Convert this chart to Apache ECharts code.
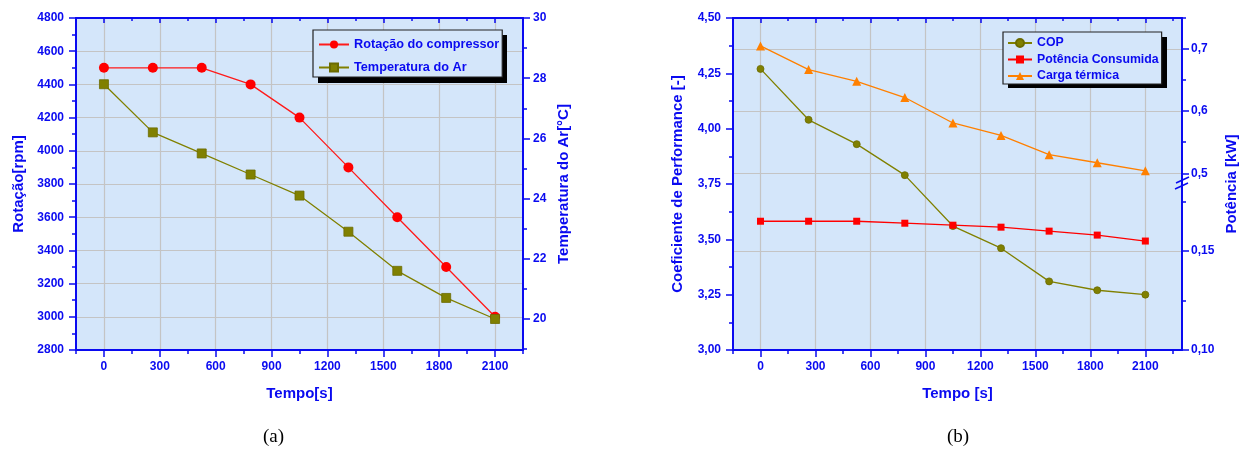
<!DOCTYPE html>
<html>
<head>
<meta charset="utf-8">
<script src="https://cdn.jsdelivr.net/npm/echarts@6/dist/echarts.min.js"></script>
<style>
  html, body { margin: 0; padding: 0; background: #fff; }
  #chart { width: 1241px; height: 455px; }
</style>
</head>
<body>
<div id="chart"></div>
<script>
// dados
const tempo = [0, 262.5, 525, 787.5, 1050, 1312.5, 1575, 1837.5, 2100];
const rotacao = [4500, 4500, 4500, 4400, 4200, 3900, 3600, 3300, 3000];
const tempAr = [27.8, 26.2, 25.5, 24.8, 24.1, 22.9, 21.6, 20.7, 20.0];
const cop = [4.27, 4.04, 3.93, 3.79, 3.56, 3.46, 3.31, 3.27, 3.25];
const potencia = [0.165, 0.165, 0.165, 0.164, 0.163, 0.162, 0.160, 0.158, 0.155];
const carga = [0.705, 0.667, 0.648, 0.622, 0.581, 0.561, 0.530, 0.517, 0.504];

const xMajor = [0, 300, 600, 900, 1200, 1500, 1800, 2100];
const xMinor = [-150, 150, 450, 750, 1050, 1350, 1650, 1950, 2250];
const tempMajor = [20, 22, 24, 26, 28, 30];
const tempMinor = [19, 21, 23, 25, 27, 29];
const potSupMajor = [0.5, 0.6, 0.7];
const potSupMinor = [0.55, 0.65, 0.75];
const potInfMajor = [0.10, 0.15];
const potInfMinor = [0.125, 0.175];

const BLUE = '#0a0af0';
const BG = '#d4e6fa';
const FONT = 'Liberation Sans';
const pairs = (ys) => tempo.map((t, i) => [t, ys[i]]);
const virgula = (d) => (v) => v.toFixed(d).replace('.', ',');
const simples = (v) => String(v);

const labelStyle = { color: BLUE, fontWeight: 'bold', fontSize: 12, fontFamily: FONT };
const nameStyle = { color: BLUE, fontWeight: 'bold', fontSize: 15, fontFamily: FONT };
const lineStyle = { color: BLUE, width: 2 };
const gridLine = { show: true, lineStyle: { color: '#c4c4c4', width: 1.2 } };

function eixoX(grid, max, extra) {
  return Object.assign({
    type: 'value', gridIndex: grid, min: -150, max: max, interval: 150,
    axisLine: { show: false, onZero: false, lineStyle: lineStyle },
    axisTick: { show: false },
    axisLabel: { show: false },
    splitLine: { show: false }
  }, extra);
}

function eixosX(grid, max, nome) {
  return [
    eixoX(grid, max, {
      position: 'bottom',
      name: nome, nameLocation: 'middle', nameGap: 36, nameTextStyle: nameStyle,
      axisLine: { show: true, onZero: false, lineStyle: lineStyle },
      axisTick: { show: true, length: 7, customValues: xMajor, lineStyle: { color: BLUE, width: 1.5 } },
      axisLabel: { show: true, margin: 11, customValues: xMajor, formatter: simples, ...labelStyle },
      splitLine: gridLine
    }),
    eixoX(grid, max, {
      position: 'bottom',
      axisTick: { show: true, length: 4, customValues: xMinor, lineStyle: { color: BLUE, width: 1.5 } }
    }),
    eixoX(grid, max, {
      position: 'top',
      axisLine: { show: true, onZero: false, lineStyle: lineStyle },
      axisTick: { show: true, inside: true, length: 5, customValues: xMajor, lineStyle: { color: BLUE, width: 1.5 } }
    }),
    eixoX(grid, max, {
      position: 'top',
      axisTick: { show: true, inside: true, length: 3, customValues: xMinor, lineStyle: { color: BLUE, width: 1.5 } }
    })
  ];
}

const xAxes = [].concat(
  eixosX(0, 2250, 'Tempo[s]'),
  eixosX(1, 2300, 'Tempo [s]'),
  [eixoX(2, 2300, { show: false }), eixoX(3, 2300, { show: false })]
);

const tick = (len, vals) => ({ show: true, length: len, customValues: vals, lineStyle: { color: BLUE, width: 1.5 } });
const semLinha = { show: false, onZero: false };
const comLinha = { show: true, onZero: false, lineStyle: lineStyle };

const yAxes = [
  // 0: rotacao
  {
    type: 'value', gridIndex: 0, position: 'left', min: 2800, max: 4800, interval: 200,
    name: 'Rotação[rpm]', nameLocation: 'middle', nameGap: 50, nameRotate: 90, nameTextStyle: nameStyle,
    axisLine: comLinha,
    axisTick: { show: true, length: 7, lineStyle: { color: BLUE, width: 1.5 } },
    minorTick: { show: true, splitNumber: 2, length: 4, lineStyle: { color: BLUE, width: 1.5 } },
    axisLabel: { margin: 12, formatter: simples, ...labelStyle },
    splitLine: gridLine
  },
  // 1: temperatura
  {
    type: 'value', gridIndex: 0, position: 'right', min: 18.97, max: 30,
    name: 'Temperatura do Ar[°C]', nameLocation: 'middle', nameGap: 33, nameRotate: 90, nameTextStyle: nameStyle,
    axisLine: comLinha,
    axisTick: tick(7, tempMajor),
    axisLabel: { margin: 10, customValues: tempMajor, formatter: simples, ...labelStyle },
    splitLine: { show: false }
  },
  // 2: temperatura, ticks menores
  {
    type: 'value', gridIndex: 0, position: 'right', min: 18.97, max: 30,
    axisLine: semLinha, axisLabel: { show: false }, splitLine: { show: false },
    axisTick: tick(4, tempMinor)
  },
  // 3: COP
  {
    type: 'value', gridIndex: 1, position: 'left', min: 3, max: 4.5, interval: 0.25,
    name: 'Coeficiente de Performance [-]', nameLocation: 'middle', nameGap: 48, nameRotate: 90, nameTextStyle: nameStyle,
    axisLine: comLinha,
    axisTick: { show: true, length: 7, lineStyle: { color: BLUE, width: 1.5 } },
    minorTick: { show: true, splitNumber: 2, length: 4, lineStyle: { color: BLUE, width: 1.5 } },
    axisLabel: { margin: 12, formatter: virgula(2), ...labelStyle },
    splitLine: { show: false }
  },
  // 4: so o nome do eixo de potencia
  {
    type: 'value', gridIndex: 1, position: 'right', min: 0, max: 1,
    name: 'Potência [kW]', nameLocation: 'middle', nameGap: 42, nameRotate: 90, nameTextStyle: nameStyle,
    axisLine: semLinha, axisTick: { show: false }, axisLabel: { show: false }, splitLine: { show: false }
  },
  // 5: potencia, parte de cima
  {
    type: 'value', gridIndex: 2, position: 'right', min: 0.4844, max: 0.75,
    axisLine: comLinha,
    axisTick: tick(7, potSupMajor),
    axisLabel: { margin: 9, customValues: potSupMajor, formatter: virgula(1), ...labelStyle },
    splitLine: gridLine
  },
  {
    type: 'value', gridIndex: 2, position: 'right', min: 0.4844, max: 0.75,
    axisLine: semLinha, axisLabel: { show: false }, splitLine: { show: false },
    axisTick: tick(4, potSupMinor)
  },
  // 7: potencia, parte de baixo
  {
    type: 'value', gridIndex: 3, position: 'right', min: 0.10, max: 0.1843,
    axisLine: comLinha,
    axisTick: tick(7, potInfMajor),
    axisLabel: { margin: 9, customValues: potInfMajor, formatter: virgula(2), ...labelStyle },
    splitLine: gridLine
  },
  {
    type: 'value', gridIndex: 3, position: 'right', min: 0.10, max: 0.1843,
    axisLine: semLinha, axisLabel: { show: false }, splitLine: { show: false },
    axisTick: tick(4, potInfMinor)
  }
];

const legendBase = {
  orient: 'vertical', backgroundColor: BG, borderColor: '#222', borderWidth: 1.2,
  textStyle: { color: BLUE, fontWeight: 'bold', fontSize: 12.7, fontFamily: FONT },
  itemWidth: 30, itemHeight: 10, borderRadius: 0, z: 6
};

const option = {
  animation: false,
  grid: [
    { left: 76, top: 18, width: 447, height: 332, show: true, backgroundColor: BG, borderWidth: 0 },
    { left: 733, top: 18, width: 449, height: 332, show: true, backgroundColor: BG, borderWidth: 0 },
    { left: 733, top: 18, width: 449, height: 165 },
    { left: 733, top: 183, width: 449, height: 167 }
  ],
  legend: [
    Object.assign({}, legendBase, {
      left: 313, top: 30, padding: [8, 3, 3, 5], itemGap: 10,
      data: ['Rotação do compressor', 'Temperatura do Ar']
    }),
    Object.assign({}, legendBase, {
      left: 1003, top: 32, padding: [5, 3, 2, 4], itemGap: 4.5, itemWidth: 24,
      textStyle: Object.assign({}, legendBase.textStyle, { fontSize: 12.3 }),
      data: ['COP', 'Potência Consumida', 'Carga térmica']
    })
  ],
  xAxis: xAxes,
  yAxis: yAxes,
  series: [
    {
      name: 'Rotação do compressor', type: 'line', xAxisIndex: 0, yAxisIndex: 0,
      data: pairs(rotacao), symbol: 'circle', symbolSize: 10,
      itemStyle: { color: '#ff0000' }, lineStyle: { color: '#ff1a1a', width: 1.3 }
    },
    {
      name: 'Temperatura do Ar', type: 'line', xAxisIndex: 0, yAxisIndex: 1,
      data: pairs(tempAr), symbol: 'rect', symbolSize: 9,
      itemStyle: { color: '#808000', borderColor: '#6b6b00', borderWidth: 0.8 }, lineStyle: { color: '#808000', width: 1.3 }
    },
    {
      name: 'COP', type: 'line', xAxisIndex: 4, yAxisIndex: 3,
      data: pairs(cop), symbol: 'circle', symbolSize: 7,
      itemStyle: { color: '#808000', borderColor: '#6b6b00', borderWidth: 0.8 }, lineStyle: { color: '#808000', width: 1.3 }
    },
    {
      name: 'Carga térmica', type: 'line', xAxisIndex: 8, yAxisIndex: 5,
      data: pairs(carga), symbol: 'triangle', symbolSize: 9,
      itemStyle: { color: '#ff8000' }, lineStyle: { color: '#ff8000', width: 1.3 }
    },
    {
      name: 'Potência Consumida', type: 'line', xAxisIndex: 9, yAxisIndex: 7,
      data: pairs(potencia), symbol: 'rect', symbolSize: 7,
      itemStyle: { color: '#ff0000' }, lineStyle: { color: '#ff0000', width: 1.3 }
    }
  ],
  graphic: [
    // sombra das legendas
    { type: 'rect', shape: { x: 318, y: 35, width: 189, height: 48 }, style: { fill: '#000' }, z: 5 },
    { type: 'rect', shape: { x: 1008, y: 37, width: 159, height: 51 }, style: { fill: '#000' }, z: 5 },
    // marcas de quebra do eixo
    { type: 'line', shape: { x1: 1176, y1: 183, x2: 1189, y2: 177 }, style: { stroke: BLUE, lineWidth: 1.5 }, z: 100 },
    { type: 'line', shape: { x1: 1175, y1: 189, x2: 1188, y2: 183 }, style: { stroke: BLUE, lineWidth: 1.5 }, z: 100 },
    { type: 'text', left: 263, top: 428, style: { text: '(a)', font: '19px "Liberation Serif"', fill: '#000' } },
    { type: 'text', left: 947, top: 428, style: { text: '(b)', font: '19px "Liberation Serif"', fill: '#000' } }
  ]
};

const chart = echarts.init(document.getElementById('chart'));
chart.setOption(option);
</script>
</body>
</html>
